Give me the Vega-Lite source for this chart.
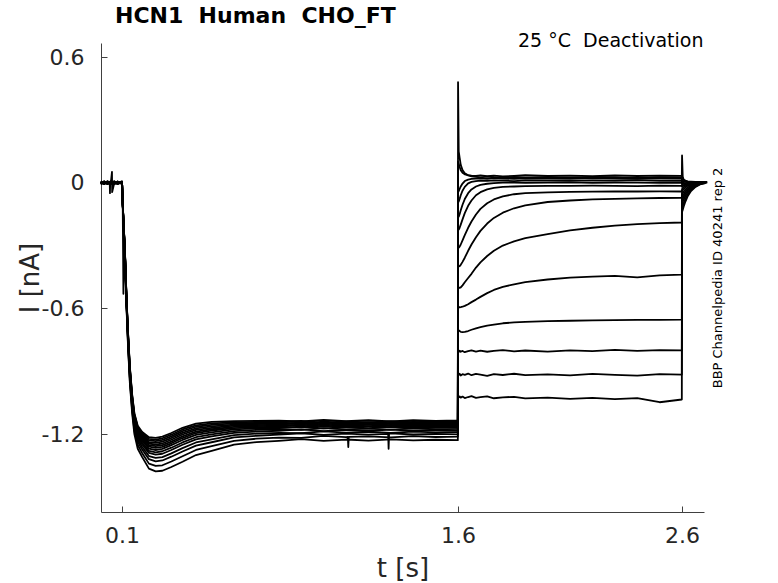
{
  "$schema": "https://vega.github.io/schema/vega-lite/v6.json",
  "width": 603,
  "height": 469,
  "autosize": {"type": "none"},
  "padding": {"left": 101, "top": 43, "right": 74, "bottom": 71},
  "background": "white",
  "title": {
    "text": "HCN1\u00a0 Human\u00a0 CHO_FT",
    "anchor": "start",
    "frame": "group",
    "dx": 14,
    "offset": -14,
    "baseline": "alphabetic",
    "font": "DejaVu Sans",
    "fontSize": 22,
    "fontWeight": "bold",
    "color": "#000000"
  },
  "data": {
    "values": [
      {"t": 0.005, "a": 0.004, "b": -0.006, "c": 0.002, "d": -0.003, "e": 0.007, "f": -0.004, "g": 0.001, "h": -0.008, "i": 0.005, "j": -0.002, "k": 0.006, "l": -0.005, "m": 0.003, "n": -0.001},
      {"t": 0.02, "a": -0.005, "b": 0.003, "c": -0.007, "d": 0.006, "e": -0.002, "f": 0.005, "g": -0.006, "h": 0.002, "i": -0.004, "j": 0.007, "k": -0.003, "l": 0.004, "m": -0.006, "n": 0.002},
      {"t": 0.035, "a": 0.006, "b": -0.002, "c": 0.004, "d": -0.007, "e": 0.003, "f": -0.005, "g": 0.007, "h": -0.003, "i": 0.002, "j": -0.006, "k": 0.005, "l": -0.001, "m": 0.004, "n": -0.005},
      {"t": 0.045, "m": 0.002},
      {"t": 0.046, "m": -0.05},
      {"t": 0.047, "m": 0.001},
      {"t": 0.05, "a": -0.003, "b": 0.005, "c": -0.004, "d": 0.002, "e": -0.006, "f": 0.004, "g": -0.001, "h": 0.006, "i": -0.005, "j": 0.003, "k": -0.002, "l": 0.007, "m": -0.004, "n": 0.001},
      {"t": 0.055, "n": 0.052},
      {"t": 0.0558, "n": -0.045},
      {"t": 0.065, "a": 0.005, "b": -0.004, "c": 0.006, "d": -0.002, "e": 0.004, "f": -0.007, "g": 0.003, "h": -0.005, "i": 0.007, "j": -0.001, "k": 0.004, "l": -0.006, "m": 0.002, "n": -0.003},
      {"t": 0.08, "a": -0.006, "b": 0.002, "c": -0.003, "d": 0.005, "e": -0.004, "f": 0.001, "g": -0.007, "h": 0.004, "i": -0.002, "j": 0.006, "k": -0.005, "l": 0.003, "m": -0.001, "n": 0.005},
      {"t": 0.0995, "a": 0.002, "b": -0.005, "c": 0.004, "d": -0.003, "e": 0.006, "f": -0.002, "g": 0.005, "h": -0.006, "i": 0.001, "j": -0.004, "k": 0.003, "l": -0.002, "m": 0.006, "n": -0.004},
      {"t": 0.1, "a": 0.001, "b": -0.002, "c": 0.002, "d": 0, "e": -0.001, "f": 0.003, "g": -0.002, "h": 0.001, "i": 0, "j": -0.003, "k": 0.002, "l": -0.001, "m": 0.001, "n": 0},
      {"t": 0.103, "a": -0.11, "b": -0.108, "c": -0.107, "d": -0.106, "e": -0.105, "f": -0.104, "g": -0.104, "h": -0.103, "i": -0.103, "j": -0.102, "k": -0.102, "l": -0.101, "m": -0.1, "n": -0.1},
      {"t": 0.106, "a": -0.53, "b": -0.187, "c": -0.184, "d": -0.182, "e": -0.18, "f": -0.179, "g": -0.177, "h": -0.176, "i": -0.175, "j": -0.174, "k": -0.173, "l": -0.172, "m": -0.171, "n": -0.17},
      {"t": 0.11, "a": -0.29, "b": -0.285, "c": -0.281, "d": -0.278, "e": -0.275, "f": -0.273, "g": -0.271, "h": -0.269, "i": -0.268, "j": -0.266, "k": -0.265, "l": -0.263, "m": -0.262, "n": -0.26},
      {"t": 0.114, "a": -0.4, "b": -0.394, "c": -0.388, "d": -0.384, "e": -0.38, "f": -0.377, "g": -0.374, "h": -0.372, "i": -0.37, "j": -0.368, "k": -0.366, "l": -0.364, "m": -0.362, "n": -0.36},
      {"t": 0.12, "a": -0.6, "b": -0.592, "c": -0.585, "d": -0.58, "e": -0.575, "f": -0.572, "g": -0.568, "h": -0.565, "i": -0.563, "j": -0.56, "k": -0.558, "l": -0.555, "m": -0.553, "n": -0.55},
      {"t": 0.127, "a": -0.79, "b": -0.779, "c": -0.769, "d": -0.762, "e": -0.755, "f": -0.75, "g": -0.745, "h": -0.741, "i": -0.738, "j": -0.734, "k": -0.731, "l": -0.727, "m": -0.724, "n": -0.72},
      {"t": 0.135, "a": -0.96, "b": -0.947, "c": -0.936, "d": -0.928, "e": -0.92, "f": -0.914, "g": -0.909, "h": -0.904, "i": -0.9, "j": -0.896, "k": -0.892, "l": -0.888, "m": -0.884, "n": -0.88},
      {"t": 0.145, "a": -1.1, "b": -1.086, "c": -1.073, "d": -1.064, "e": -1.055, "f": -1.049, "g": -1.042, "h": -1.037, "i": -1.033, "j": -1.028, "k": -1.024, "l": -1.019, "m": -1.015, "n": -1.01},
      {"t": 0.155, "a": -1.2, "b": -1.184, "c": -1.17, "d": -1.16, "e": -1.15, "f": -1.143, "g": -1.136, "h": -1.13, "i": -1.125, "j": -1.12, "k": -1.115, "l": -1.11, "m": -1.105, "n": -1.1},
      {"t": 0.17, "a": -1.27, "b": -1.252, "c": -1.237, "d": -1.226, "e": -1.215, "f": -1.207, "g": -1.2, "h": -1.193, "i": -1.188, "j": -1.182, "k": -1.177, "l": -1.171, "m": -1.166, "n": -1.16},
      {"t": 0.19, "a": -1.31, "b": -1.291, "c": -1.274, "d": -1.262, "e": -1.25, "f": -1.242, "g": -1.233, "h": -1.226, "i": -1.22, "j": -1.214, "k": -1.208, "l": -1.202, "m": -1.196, "n": -1.19},
      {"t": 0.22, "a": -1.365, "b": -1.341, "c": -1.32, "d": -1.305, "e": -1.29, "f": -1.28, "g": -1.269, "h": -1.26, "i": -1.253, "j": -1.245, "k": -1.238, "l": -1.23, "m": -1.223, "n": -1.215},
      {"t": 0.25, "a": -1.378, "b": -1.352, "c": -1.33, "d": -1.314, "e": -1.298, "f": -1.287, "g": -1.276, "h": -1.266, "i": -1.258, "j": -1.25, "k": -1.242, "l": -1.234, "m": -1.226, "n": -1.218},
      {"t": 0.28, "a": -1.375, "b": -1.349, "c": -1.326, "d": -1.31, "e": -1.294, "f": -1.282, "g": -1.271, "h": -1.261, "i": -1.253, "j": -1.245, "k": -1.236, "l": -1.228, "m": -1.22, "n": -1.212},
      {"t": 0.32, "a": -1.357, "b": -1.331, "c": -1.308, "d": -1.292, "e": -1.276, "f": -1.265, "g": -1.253, "h": -1.244, "i": -1.236, "j": -1.227, "k": -1.219, "l": -1.211, "m": -1.203, "n": -1.195},
      {"t": 0.37, "a": -1.332, "b": -1.306, "c": -1.283, "d": -1.267, "e": -1.251, "f": -1.24, "g": -1.228, "h": -1.219, "i": -1.211, "j": -1.202, "k": -1.194, "l": -1.186, "m": -1.178, "n": -1.17},
      {"t": 0.43, "a": -1.3, "b": -1.276, "c": -1.255, "d": -1.24, "e": -1.225, "f": -1.215, "g": -1.204, "h": -1.195, "i": -1.188, "j": -1.18, "k": -1.173, "l": -1.165, "m": -1.158, "n": -1.15},
      {"t": 0.5, "a": -1.28, "b": -1.258, "c": -1.239, "d": -1.225, "e": -1.211, "f": -1.201, "g": -1.192, "h": -1.183, "i": -1.177, "j": -1.17, "k": -1.163, "l": -1.156, "m": -1.149, "n": -1.142},
      {"t": 0.6, "a": -1.25, "b": -1.232, "c": -1.216, "d": -1.205, "e": -1.194, "f": -1.186, "g": -1.178, "h": -1.172, "i": -1.166, "j": -1.16, "k": -1.155, "l": -1.149, "m": -1.144, "n": -1.138},
      {"t": 0.7, "a": -1.238, "b": -1.222, "c": -1.208, "d": -1.198, "e": -1.188, "f": -1.18, "g": -1.173, "h": -1.167, "i": -1.162, "j": -1.157, "k": -1.152, "l": -1.147, "m": -1.142, "n": -1.137},
      {"t": 0.8, "a": -1.232, "b": -1.217, "c": -1.203, "d": -1.194, "e": -1.184, "f": -1.177, "g": -1.171, "h": -1.165, "i": -1.16, "j": -1.155, "k": -1.15, "l": -1.146, "m": -1.141, "n": -1.136},
      {"t": 0.9, "a": -1.224, "b": -1.218, "c": -1.196, "d": -1.195, "e": -1.178, "f": -1.18, "g": -1.165, "h": -1.168, "i": -1.155, "j": -1.158, "k": -1.146, "l": -1.149, "m": -1.137, "n": -1.14},
      {"t": 1.0, "a": -1.232, "b": -1.209, "c": -1.204, "d": -1.187, "e": -1.186, "f": -1.172, "g": -1.173, "h": -1.16, "i": -1.163, "j": -1.15, "k": -1.154, "l": -1.141, "m": -1.145, "n": -1.132},
      {"t": 1.1, "a": -1.226, "b": -1.215, "c": -1.198, "d": -1.193, "e": -1.18, "f": -1.178, "g": -1.167, "h": -1.166, "i": -1.157, "j": -1.156, "k": -1.148, "l": -1.147, "m": -1.139, "n": -1.138},
      {"t": 1.108, "b": -1.214},
      {"t": 1.11, "b": -1.262},
      {"t": 1.112, "b": -1.213},
      {"t": 1.2, "a": -1.231, "b": -1.211, "c": -1.203, "d": -1.189, "e": -1.185, "f": -1.174, "g": -1.172, "h": -1.162, "i": -1.162, "j": -1.152, "k": -1.153, "l": -1.143, "m": -1.144, "n": -1.134},
      {"t": 1.288, "c": -1.199},
      {"t": 1.29, "c": -1.27},
      {"t": 1.292, "c": -1.198},
      {"t": 1.3, "a": -1.225, "b": -1.216, "c": -1.197, "d": -1.194, "e": -1.179, "f": -1.179, "g": -1.166, "h": -1.167, "i": -1.156, "j": -1.157, "k": -1.147, "l": -1.148, "m": -1.138, "n": -1.139},
      {"t": 1.4, "a": -1.23, "b": -1.21, "c": -1.202, "d": -1.188, "e": -1.184, "f": -1.173, "g": -1.171, "h": -1.161, "i": -1.161, "j": -1.151, "k": -1.152, "l": -1.142, "m": -1.143, "n": -1.133},
      {"t": 1.5, "a": -1.227, "b": -1.214, "c": -1.199, "d": -1.192, "e": -1.181, "f": -1.177, "g": -1.168, "h": -1.165, "i": -1.158, "j": -1.155, "k": -1.149, "l": -1.146, "m": -1.14, "n": -1.137},
      {"t": 1.599, "a": -1.229, "b": -1.212, "c": -1.201, "d": -1.19, "e": -1.183, "f": -1.175, "g": -1.17, "h": -1.163, "i": -1.16, "j": -1.153, "k": -1.151, "l": -1.144, "m": -1.142, "n": -1.135},
      {"t": 1.6, "a": -1.022, "b": -0.915, "c": -0.805, "d": -0.7, "e": -0.592, "f": -0.5, "g": -0.4, "h": -0.31, "i": -0.225, "j": -0.165, "k": -0.095, "l": -0.045, "m": 0.48, "n": 0.1},
      {"t": 1.603, "a": -1.025, "b": -0.918, "c": -0.808, "d": -0.705, "e": -0.593, "f": -0.5, "g": -0.4, "h": -0.31, "i": -0.224, "j": -0.162, "k": -0.09, "l": -0.04, "m": 0.15, "n": 0.09},
      {"t": 1.607, "a": -1.02, "b": -0.912, "c": -0.802, "d": -0.708, "e": -0.595, "f": -0.502, "g": -0.398, "h": -0.305, "i": -0.215, "j": -0.15, "k": -0.078, "l": -0.03, "m": 0.12, "n": 0.075},
      {"t": 1.612, "a": -1.026, "b": -0.92, "c": -0.807, "d": -0.712, "e": -0.594, "f": -0.5, "g": -0.392, "h": -0.295, "i": -0.2, "j": -0.132, "k": -0.06, "l": -0.018, "m": 0.085, "n": 0.06},
      {"t": 1.62, "a": -1.021, "b": -0.914, "c": -0.803, "d": -0.713, "e": -0.592, "f": -0.49, "g": -0.378, "h": -0.275, "i": -0.175, "j": -0.105, "k": -0.038, "l": -0.004, "m": 0.06, "n": 0.048},
      {"t": 1.63, "a": -1.028, "b": -0.917, "c": -0.809, "d": -0.712, "e": -0.588, "f": -0.475, "g": -0.358, "h": -0.25, "i": -0.145, "j": -0.078, "k": -0.02, "l": 0.008, "m": 0.045, "n": 0.04},
      {"t": 1.645, "a": -1.023, "b": -0.911, "c": -0.804, "d": -0.708, "e": -0.58, "f": -0.455, "g": -0.325, "h": -0.215, "i": -0.11, "j": -0.05, "k": -0.003, "l": 0.015, "m": 0.035, "n": 0.036},
      {"t": 1.66, "a": -1.019, "b": -0.919, "c": -0.8, "d": -0.702, "e": -0.57, "f": -0.435, "g": -0.295, "h": -0.185, "i": -0.085, "j": -0.032, "k": 0.004, "l": 0.018, "m": 0.03, "n": 0.034},
      {"t": 1.68, "a": -1.027, "b": -0.913, "c": -0.806, "d": -0.695, "e": -0.558, "f": -0.405, "g": -0.26, "h": -0.152, "i": -0.06, "j": -0.018, "k": 0.008, "l": 0.02, "m": 0.028, "n": 0.032},
      {"t": 1.7, "a": -1.024, "b": -0.916, "c": -0.802, "d": -0.689, "e": -0.545, "f": -0.38, "g": -0.23, "h": -0.125, "i": -0.045, "j": -0.01, "k": 0.01, "l": 0.021, "m": 0.025, "n": 0.035},
      {"t": 1.73, "a": -1.02, "b": -0.922, "c": -0.807, "d": -0.682, "e": -0.527, "f": -0.35, "g": -0.195, "h": -0.098, "i": -0.032, "j": -0.005, "k": 0.009, "l": 0.019, "m": 0.029, "n": 0.031},
      {"t": 1.76, "a": -1.029, "b": -0.914, "c": -0.803, "d": -0.677, "e": -0.512, "f": -0.325, "g": -0.168, "h": -0.08, "i": -0.025, "j": -0.002, "k": 0.011, "l": 0.022, "m": 0.026, "n": 0.034},
      {"t": 1.8, "a": -1.025, "b": -0.918, "c": -0.799, "d": -0.671, "e": -0.497, "f": -0.3, "g": -0.143, "h": -0.065, "i": -0.02, "j": 0, "k": 0.01, "l": 0.02, "m": 0.024, "n": 0.03},
      {"t": 1.85, "a": -1.022, "b": -0.912, "c": -0.805, "d": -0.667, "e": -0.485, "f": -0.28, "g": -0.122, "h": -0.055, "i": -0.018, "j": 0.001, "k": 0.008, "l": 0.018, "m": 0.028, "n": 0.033},
      {"t": 1.9, "a": -1.03, "b": -0.919, "c": -0.801, "d": -0.664, "e": -0.475, "f": -0.265, "g": -0.108, "h": -0.05, "i": -0.016, "j": -0.001, "k": 0.011, "l": 0.021, "m": 0.025, "n": 0.036},
      {"t": 2.0, "a": -1.026, "b": -0.915, "c": -0.806, "d": -0.661, "e": -0.462, "f": -0.245, "g": -0.092, "h": -0.046, "i": -0.015, "j": 0, "k": 0.01, "l": 0.02, "m": 0.027, "n": 0.032},
      {"t": 2.1, "a": -1.032, "b": -0.92, "c": -0.8, "d": -0.659, "e": -0.453, "f": -0.228, "g": -0.085, "h": -0.044, "i": -0.015, "j": 0.002, "k": 0.009, "l": 0.019, "m": 0.024, "n": 0.034},
      {"t": 2.2, "a": -1.027, "b": -0.913, "c": -0.804, "d": -0.657, "e": -0.448, "f": -0.215, "g": -0.08, "h": -0.043, "i": -0.014, "j": -0.001, "k": 0.011, "l": 0.022, "m": 0.028, "n": 0.031},
      {"t": 2.3, "a": -1.033, "b": -0.917, "c": -0.798, "d": -0.656, "e": -0.445, "f": -0.205, "g": -0.077, "h": -0.042, "i": -0.015, "j": 0.001, "k": 0.01, "l": 0.02, "m": 0.026, "n": 0.035},
      {"t": 2.4, "a": -1.028, "b": -0.921, "c": -0.803, "d": -0.655, "e": -0.452, "f": -0.198, "g": -0.075, "h": -0.042, "i": -0.016, "j": 0, "k": 0.012, "l": 0.018, "m": 0.023, "n": 0.032},
      {"t": 2.5, "a": -1.048, "b": -0.914, "c": -0.799, "d": -0.655, "e": -0.442, "f": -0.193, "g": -0.073, "h": -0.041, "i": -0.014, "j": -0.001, "k": 0.009, "l": 0.021, "m": 0.027, "n": 0.034},
      {"t": 2.599, "a": -1.035, "b": -0.916, "c": -0.8, "d": -0.654, "e": -0.439, "f": -0.19, "g": -0.072, "h": -0.042, "i": -0.015, "j": 0, "k": 0.01, "l": 0.02, "m": 0.025, "n": 0.033},
      {"t": 2.6, "a": -0.14, "b": -0.12, "c": -0.1, "d": -0.085, "e": -0.07, "f": -0.055, "g": -0.04, "h": -0.03, "i": -0.02, "j": -0.01, "k": 0, "l": 0.005, "m": 0.13, "n": 0.012},
      {"t": 2.603, "a": -0.13, "b": -0.11, "c": -0.092, "d": -0.078, "e": -0.064, "f": -0.05, "g": -0.036, "h": -0.026, "i": -0.017, "j": -0.008, "k": 0.002, "l": 0.006, "m": 0.03, "n": 0.01},
      {"t": 2.607, "a": -0.115, "b": -0.098, "c": -0.082, "d": -0.068, "e": -0.056, "f": -0.043, "g": -0.031, "h": -0.022, "i": -0.013, "j": -0.005, "k": 0.003, "l": 0.006, "m": 0.015, "n": 0.008},
      {"t": 2.615, "a": -0.09, "b": -0.077, "c": -0.064, "d": -0.053, "e": -0.043, "f": -0.033, "g": -0.023, "h": -0.016, "i": -0.009, "j": -0.003, "k": 0.004, "l": 0.005, "m": 0.01, "n": 0.006},
      {"t": 2.625, "a": -0.065, "b": -0.056, "c": -0.046, "d": -0.038, "e": -0.031, "f": -0.023, "g": -0.015, "h": -0.01, "i": -0.005, "j": 0, "k": 0.004, "l": 0.004, "m": 0.006, "n": 0.005},
      {"t": 2.64, "a": -0.04, "b": -0.034, "c": -0.028, "d": -0.023, "e": -0.018, "f": -0.013, "g": -0.008, "h": -0.004, "i": -0.001, "j": 0.002, "k": 0.004, "l": 0.004, "m": 0.005, "n": 0.004},
      {"t": 2.66, "a": -0.02, "b": -0.017, "c": -0.014, "d": -0.011, "e": -0.008, "f": -0.005, "g": -0.002, "h": 0, "i": 0.002, "j": 0.003, "k": 0.004, "l": 0.004, "m": 0.004, "n": 0.004},
      {"t": 2.68, "a": -0.008, "b": -0.007, "c": -0.005, "d": -0.004, "e": -0.002, "f": 0, "g": 0.001, "h": 0.002, "i": 0.003, "j": 0.003, "k": 0.004, "l": 0.003, "m": 0.004, "n": 0.004},
      {"t": 2.7, "a": -0.003, "b": -0.002, "c": 0, "d": 0, "e": 0.002, "f": 0.002, "g": 0.003, "h": 0.003, "i": 0.003, "j": 0.004, "k": 0.004, "l": 0.003, "m": 0.004, "n": 0.004},
      {"t": 2.712, "a": 0.002, "e": 0.003, "k": 0.004, "n": 0.004}
    ]
  },
  "transform": [
    {"fold": ["a", "b", "c", "d", "e", "f", "g", "h", "i", "j", "k", "l", "m", "n"], "as": ["trace", "i"]},
    {"filter": "isValid(datum.i)"}
  ],
  "layer": [
    {
      "mark": {"type": "line", "color": "#000000", "strokeWidth": 1.8, "strokeJoin": "round"},
      "encoding": {
        "x": {
          "field": "t",
          "type": "quantitative",
          "scale": {"domain": [0.006, 2.698], "nice": false, "zero": false},
          "axis": {
            "orient": "bottom",
            "values": [0.1, 1.6, 2.6],
            "format": ".1f",
            "title": "t [s]",
            "titleX": 301.5,
            "titleY": 64,
            "titleAlign": "center",
            "titleBaseline": "alphabetic",
            "labelPadding": 19
          }
        },
        "y": {
          "field": "i",
          "type": "quantitative",
          "scale": {"domain": [-1.572, 0.667], "nice": false, "zero": false},
          "axis": {
            "orient": "left",
            "values": [0.6, 0, -0.6, -1.2],
            "labelExpr": "datum.value == 0 ? '0' : (datum.value < 0 ? '-' + format(-datum.value, '.1f') : format(datum.value, '.1f'))",
            "title": "I [nA]",
            "titleX": -71,
            "titleY": 234.5,
            "titleAngle": 270,
            "titleAlign": "center",
            "titleBaseline": "middle",
            "labelPadding": 23
          }
        },
        "detail": {"field": "trace", "type": "nominal"}
      }
    },
    {
      "transform": [{"filter": "datum.t == 0.005 && datum.trace == 'a'"}],
      "mark": {"type": "point", "opacity": 0},
      "encoding": {
        "x": {
          "field": "t",
          "type": "quantitative",
          "scale": {"domain": [0.006, 2.698], "nice": false, "zero": false},
          "axis": {
            "orient": "top",
            "labels": false,
            "ticks": false,
            "domain": false,
            "grid": false,
            "title": "25 °C\u00a0 Deactivation",
            "titleFontSize": 19,
            "titleColor": "#000000",
            "titleX": 602,
            "titleY": -3,
            "titleAlign": "right",
            "titleBaseline": "middle"
          }
        },
        "y": {
          "field": "i",
          "type": "quantitative",
          "scale": {"domain": [-1.572, 0.667], "nice": false, "zero": false},
          "axis": {
            "orient": "right",
            "labels": false,
            "ticks": false,
            "domain": false,
            "grid": false,
            "title": "BBP Channelpedia ID 40241 rep 2",
            "titleFontSize": 13,
            "titleColor": "#000000",
            "titleAngle": 270,
            "titleX": 13,
            "titleY": 234.5,
            "titleAlign": "center",
            "titleBaseline": "middle"
          }
        }
      }
    }
  ],
  "resolve": {"axis": {"x": "independent", "y": "independent"}},
  "config": {
    "view": {"stroke": null},
    "axis": {
      "grid": false,
      "labelFont": "DejaVu Sans",
      "labelFontSize": 22,
      "labelColor": "#262626",
      "titleFont": "DejaVu Sans",
      "titleFontSize": 26,
      "titleFontWeight": "normal",
      "titleColor": "#262626",
      "domainColor": "#404040",
      "domainWidth": 1,
      "tickColor": "#404040",
      "tickSize": -6,
      "tickWidth": 1
    }
  }
}
